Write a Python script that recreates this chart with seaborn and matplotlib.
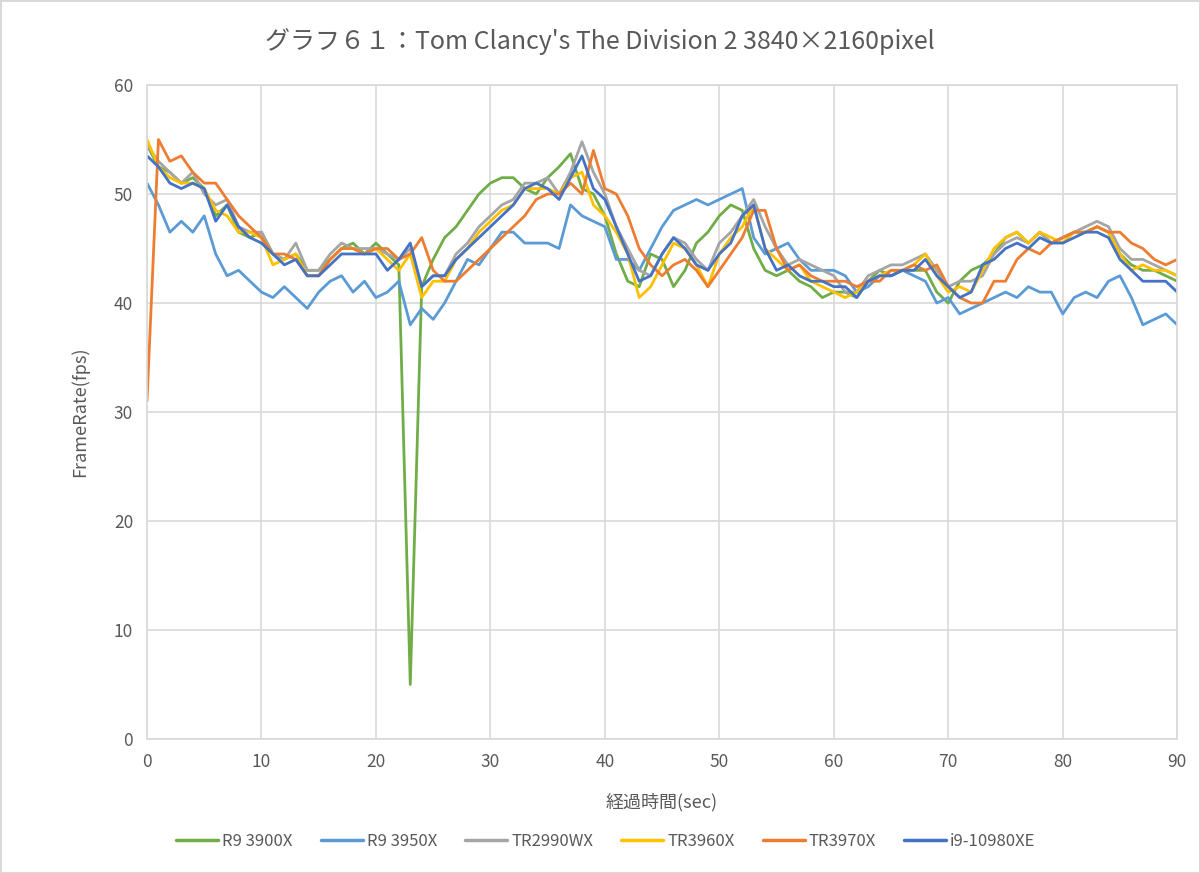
import pandas as pd
import numpy as np
import matplotlib
matplotlib.use('Agg')
import matplotlib.pyplot as plt
import seaborn as sns

# elapsed seconds, 1 sample per second
seconds = list(range(0, 91))

r9_3900x = [54.5, 52.5, 52, 51, 51.5, 50.5, 48, 49, 46.5, 46,
            46.5, 44.5, 44, 44.5, 43, 43, 44, 45, 45.5, 44.5,
            45.5, 44.5, 43.5, 5, 41.5, 44, 46, 47, 48.5, 50,
            51, 51.5, 51.5, 50.5, 50, 51.5, 52.5, 53.7, 50.5, 50,
            48, 44.5, 42, 41.5, 44.5, 44, 41.5, 43, 45.5, 46.5,
            48, 49, 48.5, 45, 43, 42.5, 43, 42, 41.5, 40.5,
            41, 41, 40.5, 42, 43, 42.5, 43, 43, 43, 41,
            40, 42, 43, 43.5, 44.5, 46, 46.5, 45.5, 46.5, 45.5,
            46, 46.5, 46.5, 47, 46.5, 44.5, 43.5, 43, 43, 42.5,
            42]

r9_3950x = [51, 49, 46.5, 47.5, 46.5, 48, 44.5, 42.5, 43, 42,
            41, 40.5, 41.5, 40.5, 39.5, 41, 42, 42.5, 41, 42,
            40.5, 41, 42, 38, 39.5, 38.5, 40, 42, 44, 43.5,
            45, 46.5, 46.5, 45.5, 45.5, 45.5, 45, 49, 48, 47.5,
            47, 44, 44, 43, 45, 47, 48.5, 49, 49.5, 49,
            49.5, 50, 50.5, 46, 44.5, 45, 45.5, 44, 43, 43,
            43, 42.5, 41, 41.5, 42.5, 42.5, 43, 42.5, 42, 40,
            40.5, 39, 39.5, 40, 40.5, 41, 40.5, 41.5, 41, 41,
            39, 40.5, 41, 40.5, 42, 42.5, 40.5, 38, 38.5, 39,
            38]

tr2990wx = [54.5, 53, 52, 51, 52, 50, 49, 49.5, 47, 46.5,
            46.5, 44.5, 44, 45.5, 43, 43, 44.5, 45.5, 45, 45,
            45, 44.5, 44, 45, 41.5, 42.5, 42.5, 44.5, 45.5, 47,
            48, 49, 49.5, 51, 51, 51.5, 50, 52, 54.8, 52,
            50, 47, 45, 43, 42.5, 44.5, 46, 45.5, 44, 43,
            45.5, 46.5, 48, 49.5, 47, 45, 43.5, 44, 43.5, 43,
            42.5, 41, 41, 42.5, 43, 43.5, 43.5, 44, 44.5, 43,
            41.5, 42, 42, 42.5, 44.5, 45.5, 46, 45.5, 46.5, 45.5,
            46, 46.5, 47, 47.5, 47, 45, 44, 44, 43.5, 43,
            42.5]

tr3960x = [55, 52.5, 51.5, 51, 51, 50.5, 48.5, 48, 46.5, 46.5,
           46, 43.5, 44, 44.5, 42.5, 42.5, 44, 45, 45, 44.5,
           45, 44, 43, 44.5, 40.5, 42, 42, 44, 45, 46.5,
           47.5, 48.5, 49, 50.5, 50.5, 50.5, 50, 51.5, 52, 49,
           48, 46.5, 44.5, 40.5, 41.5, 43.5, 45.5, 45, 43.5, 41.5,
           44.5, 46, 47, 49, 45, 44, 43, 43.5, 42, 41.5,
           41, 40.5, 41, 42, 42.5, 43, 43, 43.5, 44.5, 42.5,
           41, 41.5, 41, 43, 45, 46, 46.5, 45.5, 46.5, 46,
           45.5, 46.5, 46.5, 47, 46.5, 44.5, 43, 43.5, 43, 43,
           42.5]

tr3970x = [31, 55, 53, 53.5, 52, 51, 51, 49.5, 48, 47,
           46, 44.5, 44.5, 44, 42.5, 42.5, 44, 45, 45, 44.5,
           45, 45, 44, 44.5, 46, 43, 42, 42, 43, 44,
           45, 46, 47, 48, 49.5, 50, 50, 51, 50, 54,
           50.5, 50, 48, 45, 43.5, 42.5, 43.5, 44, 43, 41.5,
           43, 44.5, 46, 48.5, 48.5, 45, 43, 43.5, 42.5, 42,
           42, 42, 41.5, 42, 42, 43, 43, 43.5, 43, 43.5,
           41.5, 40.5, 40, 40, 42, 42, 44, 45, 44.5, 45.5,
           46, 46.5, 46.5, 47, 46.5, 46.5, 45.5, 45, 44, 43.5,
           44]

i9_10980xe = [53.5, 52.5, 51, 50.5, 51, 50.5, 47.5, 49, 47, 46,
              45.5, 44.5, 43.5, 44, 42.5, 42.5, 43.5, 44.5, 44.5, 44.5,
              44.5, 43, 44, 45.5, 41.5, 42.5, 42.5, 44, 45, 46,
              47, 48, 49, 50.5, 51, 50.5, 49.5, 51.5, 53.5, 50.5,
              49.5, 47, 44.5, 42, 42.5, 44.5, 46, 45, 43.5, 43,
              44.5, 45.5, 48, 49, 45, 43, 43.5, 42.5, 42, 42,
              41.5, 41.5, 40.5, 42, 42.5, 42.5, 43, 43, 44, 42.5,
              41.5, 40.5, 41, 43.5, 44, 45, 45.5, 45, 46, 45.5,
              45.5, 46, 46.5, 46.5, 46, 44, 43, 42, 42, 42,
              41]

names = ['R9 3900X', 'R9 3950X', 'TR2990WX', 'TR3960X', 'TR3970X', 'i9-10980XE']
colors = ['#70AD47', '#5B9BD5', '#A5A5A5', '#FFC000', '#ED7D31', '#4472C4']
series = [r9_3900x, r9_3950x, tr2990wx, tr3960x, tr3970x, i9_10980xe]

df = pd.concat([pd.DataFrame({'sec': seconds, 'fps': v, 'cpu': n})
                for n, v in zip(names, series)], ignore_index=True)

sns.set_style('white')
plt.rcParams['font.family'] = ['Noto Sans CJK JP', 'DejaVu Sans']

txt = '#595959'
grid = '#D9D9D9'

fig = plt.figure(figsize=(12, 8.73), dpi=100)
ax = fig.add_axes([0.1225, 0.1535, 0.8585, 0.7491])

sns.lineplot(data=df, x='sec', y='fps', hue='cpu', hue_order=names,
             palette=dict(zip(names, colors)), linewidth=2.0, ax=ax, legend=False)

ax.set_xlim(0, 90)
ax.set_ylim(0, 60)
ax.set_xticks(range(0, 91, 10))
ax.set_yticks(range(0, 61, 10))
ax.grid(True, color=grid, linewidth=1.2)
ax.set_axisbelow(True)
for s in ax.spines.values():
    s.set_color(grid)
    s.set_linewidth(1.2)
ax.tick_params(length=0, labelsize=12.5, labelcolor=txt, pad=10)

ax.set_xlabel('経過時間(sec)', fontsize=13, color=txt, labelpad=16)
ax.set_ylabel('FrameRate(fps)', fontsize=13, color=txt, labelpad=18)
fig.text(0.5, 0.953, 'グラフ６１：Tom Clancy\'s The Division 2 3840×2160pixel',
         ha='center', va='center', fontsize=18, color=txt)

handles = [plt.Line2D([0], [0], color=c, lw=2.5) for c in colors]
fig.legend(handles, names, loc='center', bbox_to_anchor=(0.505, 0.036), ncol=6,
           frameon=False, fontsize=12, labelcolor=txt, handlelength=2.5,
           handletextpad=0.25, columnspacing=1.7)

fig.patch.set_edgecolor(grid)
fig.patch.set_linewidth(2)
fig.savefig('out.png', dpi=100, facecolor='white', edgecolor=fig.get_edgecolor())
